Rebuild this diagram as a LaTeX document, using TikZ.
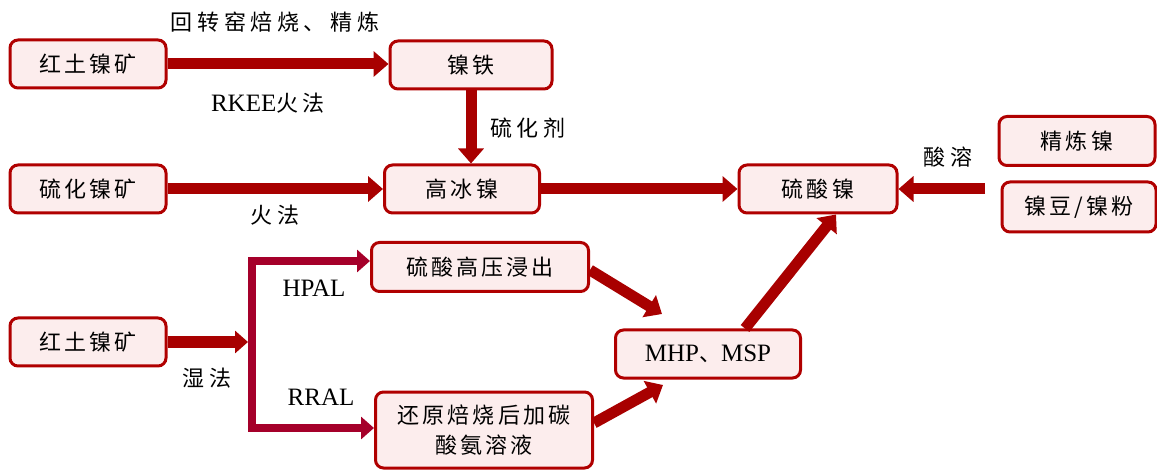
\documentclass[tikz,border=0pt]{standalone}
\usepackage{fontspec}
\setmainfont{Liberation Serif}
\newfontfamily\cjk[LetterSpace=14]{Noto Sans CJK SC}
\newfontfamily\cjkl[LetterSpace=21]{Noto Sans CJK SC}
\usetikzlibrary{arrows.meta}
\definecolor{dred}{HTML}{A80000}
\definecolor{crim}{HTML}{A5002A}
\definecolor{pinkf}{HTML}{FCEDED}
\definecolor{bord}{HTML}{B00000}
\begin{document}
\begin{tikzpicture}[x=1pt,y=-1pt,
  every node/.style={font=\fontsize{22}{30}\selectfont},
  box/.style={draw=bord, line width=3pt, fill=pinkf, rounded corners=8pt, inner sep=0pt, align=center},
  lbl/.style={inner sep=0pt},
  lat/.style={font=\fontsize{25}{30}\selectfont},
  arr/.style={draw=dred, line width=11pt, -{Triangle[width=25pt,length=15pt]}},
  brarr/.style={draw=crim, line width=8pt, -{Triangle[width=22pt,length=13pt]}},
  inarr/.style={draw=dred, line width=12pt, -{Triangle[width=22pt,length=13pt]}},
  brk/.style={draw=crim, line width=8pt, line cap=rect}]
\useasboundingbox (0,0) rectangle (1157,470);
% boxes
\node[box, minimum width=156pt, minimum height=48pt] (hn1) at (88,64) {\cjk 红土镍矿};
\node[box, minimum width=162pt, minimum height=48pt] (nt) at (471,65) {\cjk 镍铁};
\node[box, minimum width=156pt, minimum height=48pt] (lh) at (88,189) {\cjk 硫化镍矿};
\node[box, minimum width=155pt, minimum height=48pt] (gb) at (462,189) {\cjk 高冰镍};
\node[box, minimum width=158pt, minimum height=48pt] (ls) at (818,189) {\cjk 硫酸镍};
\node[box, minimum width=156pt, minimum height=49pt] (jl) at (1077,141) {\cjk 精炼镍};
\node[box, minimum width=154pt, minimum height=50pt] (nd) at (1079,207) {\cjk 镍豆/镍粉};
\node[box, minimum width=217pt, minimum height=49pt] (sg) at (480,267) {\cjk 硫酸高压浸出};
\node[box, minimum width=217pt, minimum height=76pt] (rr) at (484,430) {\cjk 还原焙烧后加碳\\\cjk 酸氨溶液};
\node[box, lat, minimum width=185pt, minimum height=48pt] (mh) at (708,354) {MHP{\fontsize{22}{30}\selectfont\cjk 、}MSP};
\node[box, minimum width=156pt, minimum height=48pt] (hn2) at (88,342) {\cjk 红土镍矿};
% labels
\node[lbl] (l1) at (275,22) {\cjkl 回转窑焙烧、精炼};
\node[lbl, lat] (l2) at (268,103) {RKEE{\fontsize{22}{30}\selectfont\cjkl 火法}};
\node[lbl] (l3) at (528,128) {\cjkl 硫化剂};
\node[lbl] (l4) at (275,215) {\cjkl 火法};
\node[lbl] (l5) at (948,157) {\cjkl 酸溶};
\node[lbl, lat] (l6) at (314,288) {HPAL};
\node[lbl, lat] (l7) at (321,397) {RRAL};
\node[lbl] (l8) at (207,378) {\cjkl 湿法};
% coordinates
\coordinate (rs) at (985,189);
\coordinate (c1) at (662,314);
\coordinate (c2) at (663,385);
\coordinate (bt) at (252,261);
\coordinate (bb) at (252,428);
% arrows
\draw[arr] (hn1.east) -- (hn1.east -| nt.west);
\draw[arr] (nt.south) -- (nt.south |- gb.north);
\draw[arr] (lh.east) -- (lh.east -| gb.west);
\draw[arr] (gb.east) -- (gb.east -| ls.west);
\draw[arr] (rs) -- (ls.east);
\draw[arr] ([yshift=-3pt]sg.east) -- (c1);
\draw[arr] ([yshift=7pt]rr.east) -- (c2);
\draw[arr] ([xshift=37pt]mh.north) -- ([xshift=18pt]ls.south);
% bracket
\draw[brk] (bt) -- (bb);
\draw[inarr, shorten >=4pt] (hn2.east) -- (hn2.east -| bt);
\draw[brarr] (bt) -- (sg.west |- bt);
\draw[brarr] (bb) -- (rr.west |- bb);
\end{tikzpicture}
\end{document}
